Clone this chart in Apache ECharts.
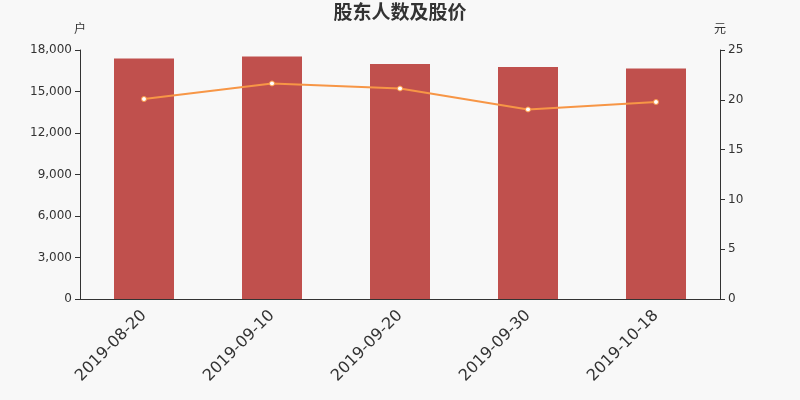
<!DOCTYPE html>
<html><head><meta charset="utf-8">
<script src="https://cdn.jsdelivr.net/npm/echarts@6/dist/echarts.min.js"></script>
<style>html,body{margin:0;padding:0;background:#f8f8f8}#c{width:800px;height:400px}</style>
</head><body><div id="c"></div>
<script>
var categories = ['2019-08-20','2019-09-10','2019-09-20','2019-09-30','2019-10-18'];
var holders = [17390, 17530, 16990, 16770, 16660];
var prices = [20.08, 21.64, 21.13, 19.03, 19.78];
var chart = echarts.init(document.getElementById('c'));
var ff = 'DejaVu Sans, Noto Sans CJK SC';
chart.setOption({
  backgroundColor: '#f8f8f8',
  animation: false,
  textStyle: {fontFamily: ff},
  title: {text: '股东人数及股价', left: 'center', top: 0, padding: [5, 5, 5, 5],
    textStyle: {fontSize: 19, fontWeight: 'bold', color: '#333', fontFamily: ff}},
  grid: {left: 80, right: 80, top: 50, bottom: 101},
  xAxis: {type: 'category', data: categories,
    axisLine: {lineStyle: {color: '#333'}},
    axisTick: {lineStyle: {color: '#333'}},
    axisLabel: {rotate: 45, fontSize: 16, color: '#333', margin: 14, fontFamily: ff}},
  yAxis: [
    {type: 'value', name: '户', nameGap: 14, min: 0, max: 18000, interval: 3000,
     nameTextStyle: {color: '#333', fontSize: 12, fontFamily: ff},
     axisLine: {show: true, lineStyle: {color: '#333'}},
     axisTick: {show: true},
     splitLine: {show: false},
     axisLabel: {color: '#333', fontSize: 12, fontFamily: ff}},
    {type: 'value', name: '元', nameGap: 14, min: 0, max: 25, interval: 5,
     nameTextStyle: {color: '#333', fontSize: 12, fontFamily: ff},
     axisLine: {show: true, lineStyle: {color: '#333'}},
     axisTick: {show: true},
     splitLine: {show: false},
     axisLabel: {color: '#333', fontSize: 12, fontFamily: ff}}
  ],
  series: [
    {type: 'bar', data: holders, barWidth: 60, itemStyle: {color: '#c0504d'}},
    {type: 'line', yAxisIndex: 1, data: prices, symbol: 'circle', symbolSize: 5,
     lineStyle: {color: '#f79646', width: 2},
     itemStyle: {color: '#fff', borderColor: '#f79646', borderWidth: 1}}
  ]
});
</script></body></html>
